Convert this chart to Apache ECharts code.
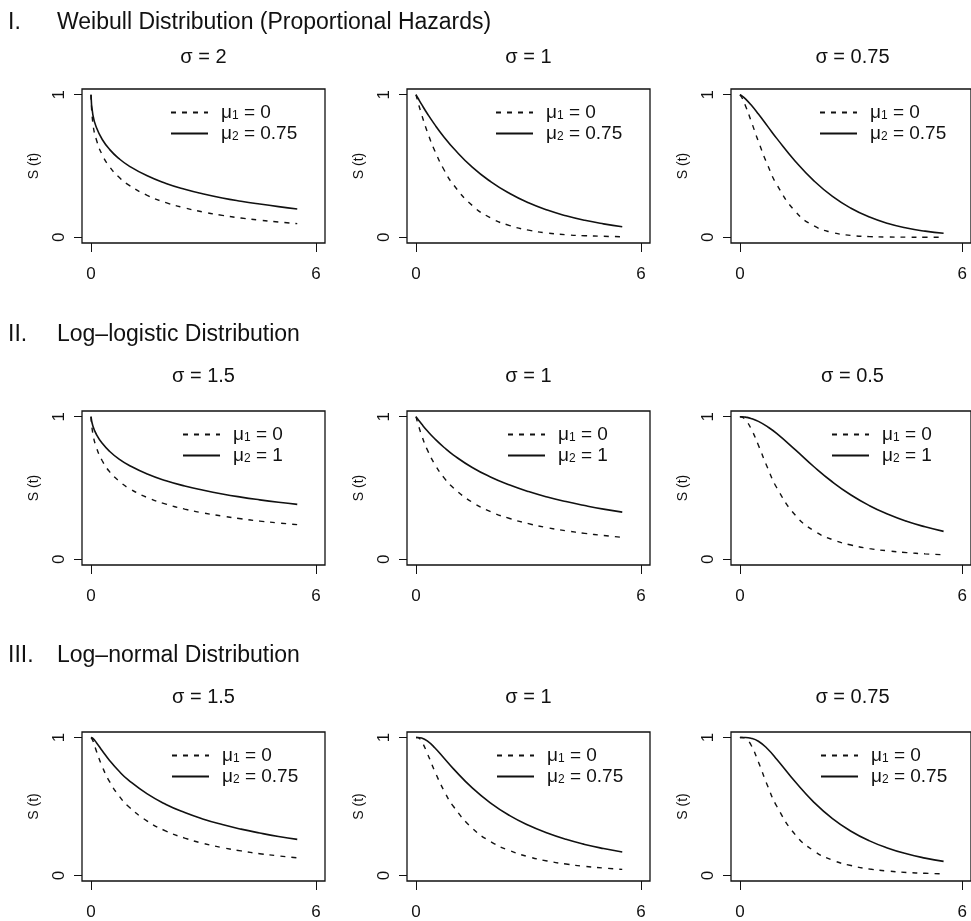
<!DOCTYPE html>
<html>
	<head>
		<meta charset="UTF-8">
		<title>Survival curves</title>
		<style>
			html, body { margin: 0; padding: 0; background: #fff; }
			#chart { width: 971px; height: 921px; }
		</style>
	</head>
	<body>
		<div id="chart"></div>
		<script type="text/javascript" src="https://cdn.jsdelivr.net/npm/echarts@6/dist/echarts.min.js"></script>
		<script type="text/javascript">
			// time points of the curves
			var tVals = [0, 0.05, 0.15, 0.3, 0.5, 0.75, 1, 1.5, 2, 2.5, 3, 3.5, 4, 4.5, 5, 5.5];

			// I. Weibull
			var weib2Mu1 = [1, 0.800, 0.679, 0.578, 0.493, 0.421, 0.368, 0.294, 0.243, 0.206, 0.177, 0.154, 0.135, 0.120, 0.107, 0.096];
			var weib2Mu2 = [1, 0.858, 0.766, 0.686, 0.615, 0.551, 0.503, 0.431, 0.378, 0.337, 0.304, 0.276, 0.253, 0.233, 0.215, 0.199];
			var weib1Mu1 = [1, 0.951, 0.861, 0.741, 0.607, 0.472, 0.368, 0.223, 0.135, 0.082, 0.050, 0.030, 0.018, 0.011, 0.007, 0.004];
			var weib1Mu2 = [1, 0.977, 0.932, 0.868, 0.790, 0.702, 0.624, 0.492, 0.389, 0.307, 0.242, 0.191, 0.151, 0.119, 0.094, 0.074];
			var weib075Mu1 = [1, 0.982, 0.923, 0.818, 0.672, 0.506, 0.368, 0.180, 0.080, 0.034, 0.013, 0.005, 0.002, 0.001, 0.000, 0.000];
			var weib075Mu2 = [1, 0.993, 0.971, 0.929, 0.864, 0.778, 0.692, 0.532, 0.396, 0.287, 0.204, 0.142, 0.097, 0.065, 0.043, 0.028];

			// II. Log-logistic
			var llog15Mu1 = [1, 0.881, 0.780, 0.691, 0.613, 0.548, 0.500, 0.433, 0.387, 0.352, 0.325, 0.303, 0.284, 0.268, 0.255, 0.243];
			var llog15Mu2 = [1, 0.935, 0.873, 0.813, 0.756, 0.702, 0.661, 0.598, 0.551, 0.514, 0.484, 0.458, 0.436, 0.417, 0.400, 0.385];
			var llog1Mu1 = [1, 0.952, 0.870, 0.769, 0.667, 0.571, 0.500, 0.400, 0.333, 0.286, 0.250, 0.222, 0.200, 0.182, 0.167, 0.154];
			var llog1Mu2 = [1, 0.982, 0.948, 0.901, 0.845, 0.784, 0.731, 0.644, 0.576, 0.521, 0.475, 0.437, 0.405, 0.377, 0.352, 0.331];
			var llog05Mu1 = [1, 0.998, 0.978, 0.917, 0.800, 0.640, 0.500, 0.308, 0.200, 0.138, 0.100, 0.075, 0.059, 0.047, 0.038, 0.032];
			var llog05Mu2 = [1, 1.000, 0.997, 0.988, 0.967, 0.929, 0.881, 0.767, 0.649, 0.542, 0.451, 0.376, 0.316, 0.267, 0.228, 0.196];

			// III. Log-normal
			var lnorm15Mu1 = [1, 0.977, 0.897, 0.789, 0.678, 0.576, 0.500, 0.394, 0.322, 0.271, 0.232, 0.202, 0.178, 0.158, 0.142, 0.128];
			var lnorm15Mu2 = [1, 0.994, 0.961, 0.904, 0.832, 0.755, 0.691, 0.591, 0.515, 0.456, 0.408, 0.369, 0.336, 0.308, 0.283, 0.262];
			var lnorm1Mu1 = [1, 0.999, 0.971, 0.886, 0.756, 0.613, 0.500, 0.343, 0.244, 0.180, 0.136, 0.105, 0.083, 0.066, 0.054, 0.044];
			var lnorm1Mu2 = [1, 1.000, 0.996, 0.975, 0.926, 0.850, 0.773, 0.635, 0.523, 0.434, 0.364, 0.308, 0.262, 0.225, 0.195, 0.170];
			var lnorm075Mu1 = [1, 1.000, 0.994, 0.946, 0.822, 0.649, 0.500, 0.294, 0.178, 0.111, 0.072, 0.047, 0.032, 0.022, 0.016, 0.012];
			var lnorm075Mu2 = [1, 1.000, 1.000, 0.995, 0.973, 0.917, 0.841, 0.677, 0.530, 0.412, 0.321, 0.251, 0.198, 0.157, 0.126, 0.102];

			var rowNums = ['I.', 'II.', 'III.'];
			var rowTitles = ['Weibull Distribution (Proportional Hazards)', 'Log–logistic Distribution', 'Log–normal Distribution'];
			var sigmaLabels = ['σ = 2', 'σ = 1', 'σ = 0.75', 'σ = 1.5', 'σ = 1', 'σ = 0.5', 'σ = 1.5', 'σ = 1', 'σ = 0.75'];
			var mu1Name = 'μ1 = 0';
			var mu2Names = ['μ2 = 0.75', 'μ2 = 1', 'μ2 = 0.75'];
			var xTicks = [0, 6];
			var yTicks = [0, 1];

			var panels = [
				[weib2Mu1, weib2Mu2], [weib1Mu1, weib1Mu2], [weib075Mu1, weib075Mu2],
				[llog15Mu1, llog15Mu2], [llog1Mu1, llog1Mu2], [llog05Mu1, llog05Mu2],
				[lnorm15Mu1, lnorm15Mu2], [lnorm1Mu1, lnorm1Mu2], [lnorm075Mu1, lnorm075Mu2]
			];

			var font = "'Liberation Sans', Arial, Helvetica, sans-serif";
			var ink = '#111';
			var colLeft = [82, 407, 731], rowTop = [89, 411, 732];
			var boxW = 243, boxH = 154;
			var headTop = [11, 323, 644], sigTop = [47, 366, 687];
			var legOff = [88, 100, 89];

			var grids = [], xAxes = [], yAxes = [], series = [], legends = [], titles = [];

			for (var r = 0; r < 3; r++) {
				titles.push({text: rowNums[r], left: 8, top: headTop[r], padding: 0,
					textStyle: {fontSize: 23, fontWeight: 'normal', color: ink, fontFamily: font}});
				titles.push({text: rowTitles[r], left: 57, top: headTop[r], padding: 0,
					textStyle: {fontSize: 23, fontWeight: 'normal', color: ink, fontFamily: font}});

				for (var c = 0; c < 3; c++) {
					var k = r * 3 + c;
					titles.push({text: sigmaLabels[k], left: colLeft[c] + boxW / 2, textAlign: 'center', top: sigTop[r], padding: 0,
						textStyle: {fontSize: 20, fontWeight: 'normal', color: ink, fontFamily: font}});

					grids.push({left: colLeft[c], top: rowTop[r], width: boxW, height: boxH,
						show: true, borderColor: ink, borderWidth: 1.3, backgroundColor: 'transparent'});

					xAxes.push({
						type: 'value', gridIndex: k, min: -0.24, max: 6.24,
						axisLine: {show: false, onZero: false}, splitLine: {show: false},
						axisTick: {show: true, customValues: xTicks, length: 9, lineStyle: {color: ink, width: 1}},
						axisLabel: {customValues: xTicks, margin: 23, fontSize: 17, color: ink, fontFamily: font}
					});
					yAxes.push({
						type: 'value', gridIndex: k, min: -0.04, max: 1.04,
						axisLine: {show: false, onZero: false}, splitLine: {show: false},
						axisTick: {show: true, customValues: yTicks, length: 8, lineStyle: {color: ink, width: 1}},
						axisLabel: {customValues: yTicks, rotate: 90, margin: 14, fontSize: 17, color: ink, fontFamily: font},
						name: 'S (t)', nameLocation: 'middle', nameGap: 41,
						nameTextStyle: {fontSize: 14, color: ink, fontFamily: font}
					});

					var names = [mu1Name, mu2Names[r]];
					for (var s = 0; s < 2; s++) {
						var vals = panels[k][s];
						series.push({
							type: 'line', name: names[s], xAxisIndex: k, yAxisIndex: k,
							data: tVals.map(function(t, i) { return [t, vals[i]]; }),
							symbol: 'none', smooth: 0.5, silent: true,
							itemStyle: {color: ink},
							lineStyle: {color: ink, width: s == 0 ? 1.4 : 1.6, type: s == 0 ? [5, 6] : 'solid'}
						});
					}

					legends.push({
						orient: 'vertical', left: colLeft[c] + legOff[r], top: rowTop[r] + 14, padding: 0,
						itemGap: 2, itemWidth: 37, itemHeight: 12, selectedMode: false,
						itemStyle: {opacity: 0},
						data: names,
						formatter: function(name) { return name.replace(/μ(\d)/, 'μ{s|$1}'); },
						textStyle: {fontSize: 19, color: ink, fontFamily: font, padding: [0, 0, 0, 8],
							rich: {s: {fontSize: 12, color: ink, fontFamily: font, verticalAlign: 'bottom'}}}
					});
				}
			}

			var myChart = echarts.init(document.getElementById('chart'));
			myChart.setOption({
				animation: false,
				backgroundColor: '#fff',
				title: titles,
				legend: legends,
				grid: grids,
				xAxis: xAxes,
				yAxis: yAxes,
				series: series
			});
		</script>
	</body>
</html>
